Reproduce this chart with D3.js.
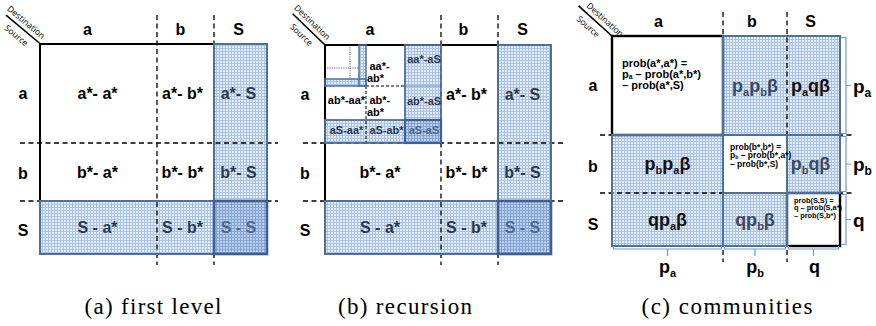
<!DOCTYPE html>
<html><head><meta charset="utf-8">
<script src="https://cdn.jsdelivr.net/npm/d3@7"></script>
<style>body{margin:0;background:#fff} .cap{font-family:"Liberation Serif","DejaVu Serif",serif;}</style>
</head><body>
<svg id="c" width="876" height="326" xmlns="http://www.w3.org/2000/svg"></svg>
<script>
// ---------- data ----------
const categories = ["a", "b", "S"];
const captions = ["(a) first level", "(b) recursion", "(c) communities"];
const firstLevelCells = [
  ["a*- a*", "a*- b*", "a*- S"],
  ["b*- a*", "b*- b*", "b*- S"],
  ["S - a*", "S - b*", "S - S"]
];
const recursionCells = [
  [null, "a*- b*", "a*- S"],
  ["b*- a*", "b*- b*", "b*- S"],
  ["S - a*", "S - b*", "S - S"]
];
const subCells = [
  [null, ["aa*-", "ab*"], ["aa*-aS"]],
  [["ab*-aa*"], ["ab*-", "ab*"], ["ab*-aS"]],
  [["aS-aa*"], ["aS-ab*"], ["aS-aS"]]
];
const communitySizes = ["p_a", "p_b", "q"];
const communityCells = [
  [["prob(a*,a*) =", "p_a – prob(a*,b*)", "– prob(a*,S)"], "p_ap_bβ", "p_aqβ"],
  ["p_bp_aβ", ["prob(b*,b*) =", "p_b – prob(b*,a*)", "– prob(b*,S)"], "p_bqβ"],
  ["qp_aβ", "qp_bβ", ["prob(S,S) =", "q – prob(S,a*)", "– prob(S,b*)"]]
];

// ---------- layout ----------
const svg = d3.select("#c");
const FONT = "'Liberation Sans', Arial, sans-serif";
const BLUE = "#4d6f9e", DARKBLUE = "#3f5f90";
const defs = svg.append("defs");
function gridPattern(id, bg, line) {
  const p = defs.append("pattern").attr("id", id).attr("width", 3).attr("height", 3)
    .attr("patternUnits", "userSpaceOnUse");
  p.append("rect").attr("width", 3).attr("height", 3).attr("fill", bg);
  p.append("path").attr("d", "M0 0.5H3M0.5 0V3").attr("stroke", line).attr("stroke-width", 0.9);
}
gridPattern("gl", "#e2eaf6", "#a6bfe2");
gridPattern("gd", "#bbcee9", "#82a2d0");

function edges(shares, r0, r1) {
  const cum = [0, ...d3.cumsum(shares)];
  const s = d3.scaleLinear().domain([0, cum[cum.length - 1]]).range([r0, r1]);
  return cum.map(s);
}

function rich(sel, str, fs, subFs, subDy) {
  const segs = []; let cur = "";
  for (let i = 0; i < str.length; i++) {
    if (str[i] === "_") { if (cur) segs.push({t: cur, sub: false}); cur = ""; segs.push({t: str[i + 1], sub: true}); i++; }
    else cur += str[i];
  }
  if (cur) segs.push({t: cur, sub: false});
  let shifted = false;
  segs.forEach(s => {
    const ts = sel.append("tspan").text(s.t).attr("font-size", s.sub ? subFs : fs);
    if (s.sub && !shifted) { ts.attr("dy", subDy); shifted = true; }
    else if (!s.sub && shifted) { ts.attr("dy", -subDy); shifted = false; }
  });
  return sel;
}

function fillRect(g, x0, y0, x1, y1, dark) {
  g.append("rect").attr("x", x0).attr("y", y0).attr("width", x1 - x0).attr("height", y1 - y0)
    .attr("fill", dark ? "url(#gd)" : "url(#gl)");
}
function strokeRect(g, x0, y0, x1, y1, color, w) {
  g.append("rect").attr("x", x0).attr("y", y0).attr("width", x1 - x0).attr("height", y1 - y0)
    .attr("fill", "none").attr("stroke", color).attr("stroke-width", w);
}
function line(g, x0, y0, x1, y1, color, w, dash) {
  const l = g.append("line").attr("x1", x0).attr("y1", y0).attr("x2", x1).attr("y2", y1)
    .attr("stroke", color).attr("stroke-width", w);
  if (dash) l.attr("stroke-dasharray", dash);
  return l;
}
function label(g, x, y, t, fs, color, anchor) {
  return g.append("text").attr("x", x).attr("y", y).attr("font-family", FONT).attr("font-weight", "bold")
    .attr("font-size", fs).attr("fill", color || "#000").attr("text-anchor", anchor || "middle").text(t);
}
function corner(g, ex, ey, ang, dAlong) {
  const c = g.append("g").attr("transform", `translate(${ex},${ey}) rotate(${ang})`);
  c.append("line").attr("x1", -45).attr("y1", 0).attr("x2", 0).attr("y2", 0).attr("stroke", "#000").attr("stroke-width", 1.6);
  c.append("text").attr("x", dAlong).attr("y", -4.5).attr("text-anchor", "middle").attr("font-family", "'Open Sans', sans-serif")
    .attr("font-size", 8.6).text("Destination");
  c.append("text").attr("x", -24).attr("y", 12).attr("text-anchor", "middle").attr("font-family", "'Open Sans', sans-serif")
    .attr("font-size", 8.6).text("Source");
}
function headers(g, xe, ye, colShift, rowX, rowDy, colY) {
  categories.forEach((c, j) => label(g, (xe[j] + xe[j + 1]) / 2 + colShift[j], colY, c, 16));
  categories.forEach((c, i) => label(g, rowX, (ye[i] + ye[i + 1]) / 2 + 5.6 + rowDy[i], c, 16));
}
const DASH = "5,3.5";

// ---------- panel (a) ----------
{
  const g = svg.append("g");
  const xe = edges([117, 57, 53], 40, 267), ye = edges([99, 58, 53], 44, 254);
  fillRect(g, xe[2], ye[0], xe[3], ye[2], false);
  fillRect(g, xe[0], ye[2], xe[2], ye[3], false);
  fillRect(g, xe[2], ye[2], xe[3], ye[3], true);
  [xe[1], xe[2]].forEach(x => line(g, x, 15, x, 265, "#000", 1.3, DASH));
  [ye[1], ye[2]].forEach(y => line(g, 20, y, 278, y, "#000", 1.3, DASH));
  line(g, xe[0], ye[0], xe[2], ye[0], "#000", 2);
  line(g, xe[0], ye[0] - 1, xe[0], ye[2], "#000", 2);
  strokeRect(g, xe[2], ye[0], xe[3], ye[2], BLUE, 2);
  strokeRect(g, xe[0], ye[2], xe[2], ye[3], BLUE, 2);
  strokeRect(g, xe[2], ye[2], xe[3], ye[3], DARKBLUE, 2.6);
  headers(g, xe, ye, [-11, -5, -2], 23, [0, 1, 3], 35);
  firstLevelCells.forEach((row, i) => row.forEach((t, j) => {
    const blue = i === 2 || j === 2, dark = i === 2 && j === 2;
    label(g, (xe[j] + xe[j + 1]) / 2 + [-1, -3, -2][j], (ye[i] + ye[i + 1]) / 2 + 5.6, t, 16,
      dark ? "#4f6a90" : (blue ? "#2c3a4f" : "#000"));
  }));
  corner(g, 40.5, 44, 40, -25);
}

// ---------- panel (b) ----------
{
  const g = svg.append("g");
  const xe = edges([116, 57, 53], 325, 551), ye = edges([98, 58, 53], 45, 254);
  const sx = edges([41, 39, 36], xe[0], xe[1]), sy = edges([41, 34, 23], ye[0], ye[1]);
  const ssx = edges([25, 9, 7], sx[0], sx[1]), ssy = edges([23, 11, 7], sy[0], sy[1]);
  fillRect(g, xe[2], ye[0], xe[3], ye[2], false);
  fillRect(g, xe[0], ye[2], xe[2], ye[3], false);
  fillRect(g, xe[2], ye[2], xe[3], ye[3], true);
  fillRect(g, sx[2], sy[0], sx[3], sy[2], false);
  fillRect(g, sx[0], sy[2], sx[2], sy[3], false);
  fillRect(g, sx[2], sy[2], sx[3], sy[3], true);
  fillRect(g, ssx[2], ssy[0], ssx[3], ssy[3], false);
  fillRect(g, ssx[0], ssy[2], ssx[2], ssy[3], false);
  [xe[1], xe[2]].forEach(x => line(g, x, 15, x, 265, "#000", 1.3, DASH));
  [ye[1], ye[2]].forEach(y => line(g, 303, y, 563, y, "#000", 1.3, DASH));
  line(g, sx[1], sy[1], sx[1], sy[3], "#000", 1, "3,2");
  line(g, sx[1], sy[1], sx[2], sy[1], "#000", 1, "3,2");
  line(g, ssx[1], ssy[0], ssx[1], ssy[2], "#333", 0.9, "1,1.3");
  line(g, ssx[0], ssy[1], ssx[2], ssy[1], "#333", 0.9, "1,1.3");
  line(g, sx[2], sy[1], sx[3], sy[1], "#6d8fc0", 1);
  line(g, xe[0], ye[0], xe[2], ye[0], "#000", 2);
  line(g, xe[0], ye[0] - 1, xe[0], ye[2], "#000", 2);
  strokeRect(g, ssx[2], ssy[0], ssx[3], ssy[3], BLUE, 1.5);
  strokeRect(g, ssx[0], ssy[2], ssx[3], ssy[3], BLUE, 1.5);
  strokeRect(g, sx[2], sy[0], sx[3], sy[2], BLUE, 1.8);
  strokeRect(g, sx[0], sy[2], sx[2], sy[3], BLUE, 1.8);
  strokeRect(g, sx[2], sy[2], sx[3], sy[3], DARKBLUE, 2.2);
  strokeRect(g, xe[2], ye[0], xe[3], ye[2], BLUE, 2);
  strokeRect(g, xe[0], ye[2], xe[2], ye[3], BLUE, 2);
  strokeRect(g, xe[2], ye[2], xe[3], ye[3], DARKBLUE, 2.6);
  headers(g, xe, ye, [-13, -6, -2], 305, [0, 1, 3], 35);
  recursionCells.forEach((row, i) => row.forEach((t, j) => {
    if (!t) return;
    const blue = i === 2 || j === 2, dark = i === 2 && j === 2;
    label(g, (xe[j] + xe[j + 1]) / 2 + [-3, -3, -2][j], (ye[i] + ye[i + 1]) / 2 + 5.6, t, 16,
      dark ? "#4f6a90" : (blue ? "#2c3a4f" : "#000"));
  }));
  const subBase = [[null, 70, 63], [104, 104, 105], [134, 134, 134]];
  subCells.forEach((row, i) => row.forEach((lines, j) => {
    if (!lines) return;
    const blue = i === 2 || j === 2, dark = i === 2 && j === 2;
    const col = dark ? "#4f6a90" : (blue ? "#2c3a4f" : "#000");
    if (lines.length === 1) {
      label(g, (sx[j] + sx[j + 1]) / 2 + 1, subBase[i][j], lines[0], 11, col);
    } else {
      lines.forEach((t, k) => label(g, sx[j] + (k === 0 ? 3.5 : 1), subBase[i][j] + k * 12, t, 11, col, "start"));
    }
  }));
  corner(g, 325, 45, 44, -25);
}

// ---------- panel (c) ----------
{
  const g = svg.append("g");
  const xe = edges([111, 64, 53], 612, 840), ye = edges([99, 58, 53], 36, 246);
  fillRect(g, xe[1], ye[0], xe[3], ye[1], false);
  fillRect(g, xe[0], ye[1], xe[1], ye[3], false);
  fillRect(g, xe[2], ye[1], xe[3], ye[2], false);
  fillRect(g, xe[1], ye[2], xe[2], ye[3], false);
  [xe[1], xe[2]].forEach(x => line(g, x, 12, x, 262, "#000", 1.3, DASH));
  [ye[1], ye[2]].forEach(y => line(g, 600, y, 852, y, "#000", 1.3, DASH));
  strokeRect(g, xe[0], ye[0], xe[1], ye[1], "#000", 2.4);
  strokeRect(g, xe[2], ye[2], xe[3], ye[3], "#000", 2.4);
  strokeRect(g, xe[1], ye[0], xe[3], ye[1], BLUE, 2);
  strokeRect(g, xe[0], ye[1], xe[1], ye[3], BLUE, 2);
  strokeRect(g, xe[2], ye[1], xe[3], ye[2], BLUE, 2);
  strokeRect(g, xe[1], ye[2], xe[2], ye[3], BLUE, 2);
  headers(g, xe, ye, [-9, -3, -3], 593, [0, 2, 5], 27);
  const bigColor = [[null, "#3a4a63", "#111"], ["#111", null, "#3a4a63"], ["#111", "#3a4a63", null]];
  const probStyle = [[11, 10, 31], [8.5, 7, 14.5], [7.4, 7, 10]];
  communityCells.forEach((row, i) => row.forEach((c, j) => {
    const cx = (xe[j] + xe[j + 1]) / 2, cy = (ye[i] + ye[i + 1]) / 2;
    if (Array.isArray(c)) {
      const [fs, pad, off] = probStyle[i];
      c.forEach((t, k) => {
        const tx = g.append("text").attr("x", xe[j] + pad).attr("y", ye[i] + off + k * fs * 1.0)
          .attr("font-family", FONT).attr("font-weight", "bold").attr("fill", "#000");
        rich(tx, t, fs, fs * 0.62, fs * 0.12);
      });
    } else {
      const tx = g.append("text").attr("x", cx + (j === 2 ? -3 : 0)).attr("y", cy + 6)
        .attr("text-anchor", "middle").attr("font-family", FONT).attr("font-weight", "bold").attr("fill", bigColor[i][j]);
      rich(tx, c, 18, 11, 4);
    }
  }));
  const BR = "#6f9bd4";
  categories.forEach((c, i) => {
    const y0 = ye[i] + 1.5, y1 = ye[i + 1] - 1.5, cy = (ye[i] + ye[i + 1]) / 2;
    g.append("path").attr("d", `M841,${y0}H846V${y1}H841M846,${cy}H851`).attr("fill", "none")
      .attr("stroke", BR).attr("stroke-width", 1.2);
    const tx = g.append("text").attr("x", 853).attr("y", cy + 7).attr("font-family", FONT)
      .attr("font-weight", "bold").attr("fill", "#000");
    rich(tx, communitySizes[i], 19, 12, 4);
  });
  categories.forEach((c, j) => {
    const x0 = xe[j] + 1.5, x1 = xe[j + 1] - 1.5, cx = (xe[j] + xe[j + 1]) / 2;
    g.append("path").attr("d", `M${x0},246V249H${x1}V246M${cx},249V256`).attr("fill", "none")
      .attr("stroke", BR).attr("stroke-width", 1.2);
    const tx = g.append("text").attr("x", cx + (j === 2 ? 1 : 0)).attr("y", 273).attr("text-anchor", "middle")
      .attr("font-family", FONT).attr("font-weight", "bold").attr("fill", "#000");
    rich(tx, communitySizes[j], 18, 11, 4);
  });
  corner(g, 612, 36, 42, -16);
}

// ---------- captions ----------
const capX = [153, 405, 727], capW = [137, 134, 171];
captions.forEach((t, i) => {
  svg.append("text").attr("class", "cap").attr("x", capX[i]).attr("y", 314).attr("text-anchor", "middle")
    .attr("font-size", 23).attr("textLength", capW[i]).attr("lengthAdjust", "spacing").text(t);
});
</script>
</body></html>
